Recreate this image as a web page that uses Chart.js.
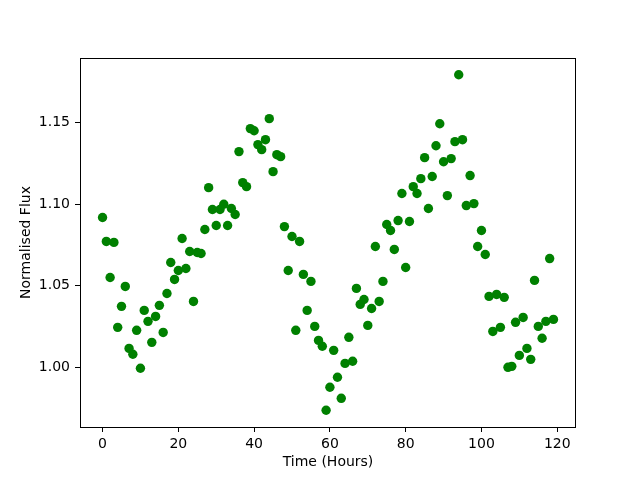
<!DOCTYPE html>
<html>
<head>
<meta charset="utf-8">
<script src="https://cdn.jsdelivr.net/npm/chart.js@4/dist/chart.umd.min.js"></script>
<style>
  html, body { margin:0; padding:0; background:#fff; }
  #wrap { width:640px; height:480px; }
</style>
</head>
<body>
<div id="wrap"><canvas id="fluxChart" width="640" height="480"></canvas></div>
<script>
const hours = [
  0,1,2,3,4,5,6,7,8,9,10,11,12,13,14,15,16,17,18,19,
  20,21,22,23,24,25,26,27,28,29,30,31,32,33,34,35,36,37,38,39,
  40,41,42,43,44,45,46,47,48,49,50,51,52,53,54,55,56,57,58,59,
  60,61,62,63,64,65,66,67,68,69,70,71,72,73,74,75,76,77,78,79,
  80,81,82,83,84,85,86,87,88,89,90,91,92,93,94,95,96,97,98,99,
  100,101,102,103,104,105,106,107,108,109,110,111,112,113,114,115,116,117,118,119
]
const flux = [
  1.0919,1.0772,1.0551,1.0766,1.0245,1.0374,1.0496,1.0116,1.0080,1.0227,
  0.9994,1.0349,1.0282,1.0153,1.0312,1.0380,1.0214,1.0453,1.0643,1.0539,
  1.0594,1.0790,1.0606,1.0710,1.0404,1.0704,1.0698,1.0845,1.1102,1.0968,
  1.0870,1.0968,1.1000,1.0870,1.0974,1.0937,1.1323,1.1133,1.1108,1.1464,
  1.1451,1.1366,1.1335,1.1396,1.1525,1.1200,1.1304,1.1292,1.0863,1.0594,
  1.0802,1.0227,1.0772,1.0570,1.0349,1.0527,1.0251,1.0165,1.0129,0.9737,
  0.9878,1.0104,0.9939,0.9810,1.0024,1.0184,1.0037,1.0484,1.0386,1.0416,
  1.0257,1.0361,1.0741,1.0404,1.0527,1.0876,1.0839,1.0723,1.0900,1.1066,
  1.0612,1.0894,1.1108,1.1066,1.1157,1.1286,1.0974,1.1170,1.1359,1.1494,
  1.1261,1.1053,1.1280,1.1384,1.1794,1.1396,1.0992,1.1176,1.1004,1.0741,
  1.0839,1.0692,1.0435,1.0220,1.0447,1.0245,1.0429,1.0000,1.0006,1.0276,
  1.0073,1.0306,1.0116,1.0049,1.0533,1.0251,1.0178,1.0282,1.0667,1.0294
]
const xTicks = [0, 20, 40, 60, 80, 100, 120]
const yTicks = [1.00, 1.05, 1.10, 1.15]

Chart.defaults.font.family = 'DejaVu Sans'
Chart.defaults.font.size = 14
Chart.defaults.color = '#000'

const frameBox = {
  id: 'frameBox',
  afterDraw(chart) {
    const { ctx, chartArea: a } = chart
    ctx.save()
    ctx.strokeStyle = '#000'
    ctx.lineWidth = 1
    ctx.strokeRect(Math.round(a.left) + 0.5, Math.round(a.top) + 0.5,
      Math.round(a.right - a.left) - 1, Math.round(a.bottom - a.top))
    ctx.restore()
  }
}

new Chart(document.getElementById('fluxChart').getContext('2d'), {
  type: 'scatter',
  data: {
    datasets: [{
      data: hours.map((h, i) => ({ x: h, y: flux[i] })),
      backgroundColor: '#008000',
      borderWidth: 0,
      pointRadius: 4.7,
      pointHoverRadius: 4.7
    }]
  },
  options: {
    responsive: false,
    animation: false,
    devicePixelRatio: 1,
    layout: { padding: { top: 58, right: 64, left: 0, bottom: 0 } },
    plugins: { legend: { display: false }, tooltip: { enabled: false } },
    scales: {
      x: {
        type: 'linear',
        min: -5.95,
        max: 124.95,
        afterBuildTicks: s => { s.ticks = xTicks.map(v => ({ value: v })) },
        afterFit: s => { s.height = 53 },
        ticks: { padding: 4, maxRotation: 0, autoSkip: false },
        grid: { drawOnChartArea: false, tickLength: 5, color: '#000' },
        border: { display: false },
        title: { display: true, text: 'Time (Hours)', padding: { top: 0, bottom: 9 } }
      },
      y: {
        type: 'linear',
        min: 0.9634,
        max: 1.1897,
        afterBuildTicks: s => { s.ticks = yTicks.map(v => ({ value: v })) },
        afterFit: s => { s.width = 80 },
        ticks: { padding: 5, autoSkip: false, callback: v => v.toFixed(2) },
        grid: { drawOnChartArea: false, tickLength: 5, color: '#000' },
        border: { display: false },
        title: { display: true, text: 'Normalised Flux', padding: { top: 18, bottom: 0 } }
      }
    }
  },
  plugins: [frameBox]
})
</script>
</body>
</html>
